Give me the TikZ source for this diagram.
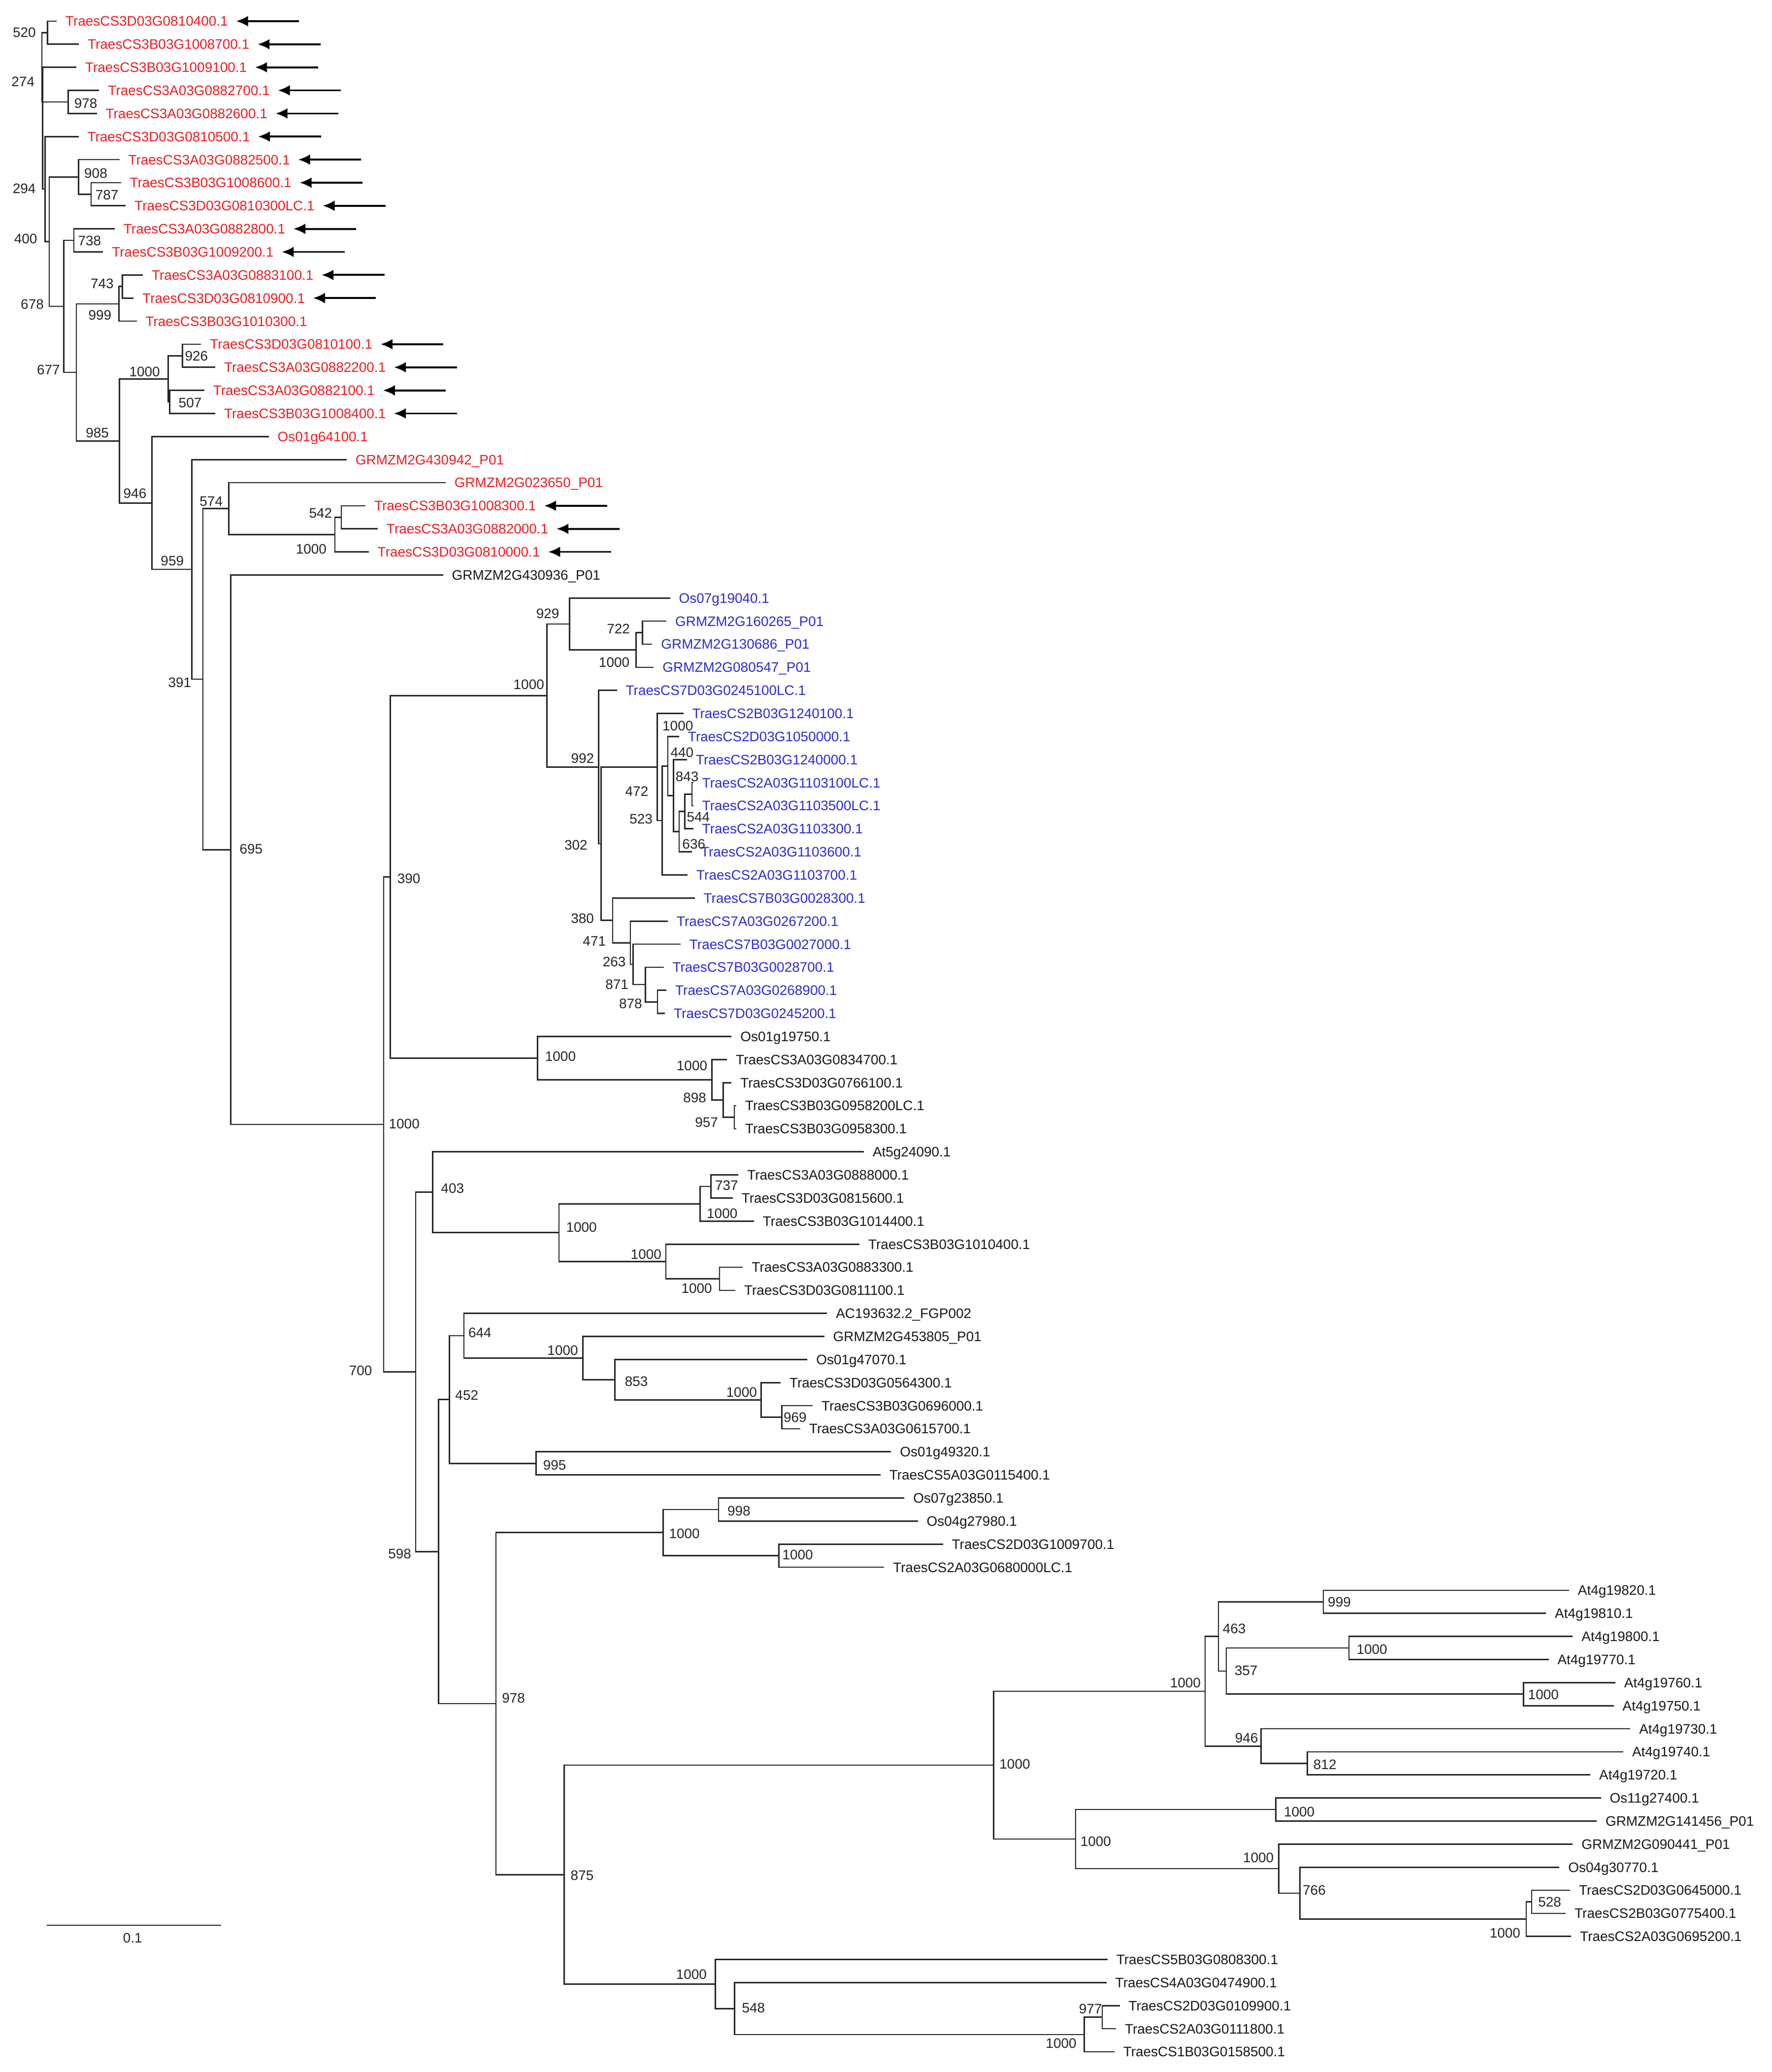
\documentclass[tikz,border=0pt]{standalone}
\usepackage{fontspec}
\setmainfont{Liberation Sans}
\usetikzlibrary{arrows.meta}
\definecolor{tred}{RGB}{235,30,35}
\definecolor{tblue}{RGB}{45,45,205}
\newcommand\fs{\fontsize{10.4}{12}\selectfont}
\newcommand\LF[5]{\coordinate (t#1) at (#2,#3); \node[lf,#5] (L#1) at (t#1) {#4};}
\newcommand\E[2]{\draw[br] (#1) |- (#2);}
\newcommand\AR[1]{\coordinate (a#1) at ([xshift=53.5pt]L#1.east); \draw[arr] (a#1) -- ([xshift=6pt]L#1.east);}
\newcommand\BS[4]{\node[bs] (#1) at (#2,#3) {#4};}
\tikzset{
 br/.style={draw=black!85, line width=1.0pt},
 lf/.style={anchor=west, inner sep=0pt, xshift=6.5pt, text height=7.4pt, text depth=0pt, font=\fs},
 bs/.style={inner sep=0pt, text height=7.4pt, text depth=0pt, font=\fs, text=black!85},
 arr/.style={-{Latex[length=9pt,width=8pt]}, line width=1.4pt, black},
 rd/.style={text=tred}, bl/.style={text=tblue}, bk/.style={text=black!90}
}
\begin{document}
\begin{tikzpicture}[x=1pt,y=-1pt]
\useasboundingbox (0,0) rectangle (1339,1566);
% ---------------- leaves
\LF{1}{42.8}{16.00}{TraesCS3D03G0810400.1}{rd}
\LF{2}{59.6}{33.44}{TraesCS3B03G1008700.1}{rd}
\LF{3}{57.7}{50.88}{TraesCS3B03G1009100.1}{rd}
\LF{4}{75.0}{68.32}{TraesCS3A03G0882700.1}{rd}
\LF{5}{73.2}{85.76}{TraesCS3A03G0882600.1}{rd}
\LF{6}{59.4}{103.20}{TraesCS3D03G0810500.1}{rd}
\LF{7}{90.3}{120.64}{TraesCS3A03G0882500.1}{rd}
\LF{8}{91.4}{138.08}{TraesCS3B03G1008600.1}{rd}
\LF{9}{95.0}{155.52}{TraesCS3D03G0810300LC.1}{rd}
\LF{10}{86.7}{172.96}{TraesCS3A03G0882800.1}{rd}
\LF{11}{77.9}{190.40}{TraesCS3B03G1009200.1}{rd}
\LF{12}{108.0}{207.84}{TraesCS3A03G0883100.1}{rd}
\LF{13}{101.0}{225.28}{TraesCS3D03G0810900.1}{rd}
\LF{14}{103.3}{242.72}{TraesCS3B03G1010300.1}{rd}
\LF{15}{152.0}{260.16}{TraesCS3D03G0810100.1}{rd}
\LF{16}{162.7}{277.60}{TraesCS3A03G0882200.1}{rd}
\LF{17}{154.4}{295.04}{TraesCS3A03G0882100.1}{rd}
\LF{18}{162.7}{312.48}{TraesCS3B03G1008400.1}{rd}
\LF{19}{203.1}{329.92}{Os01g64100.1}{rd}
\LF{20}{262.0}{347.36}{GRMZM2G430942\_P01}{rd}
\LF{21}{336.8}{364.80}{GRMZM2G023650\_P01}{rd}
\LF{22}{276.2}{382.24}{TraesCS3B03G1008300.1}{rd}
\LF{23}{285.5}{399.68}{TraesCS3A03G0882000.1}{rd}
\LF{24}{278.7}{417.12}{TraesCS3D03G0810000.1}{rd}
\LF{25}{334.9}{434.56}{GRMZM2G430936\_P01}{bk}
\LF{26}{506.5}{452.00}{Os07g19040.1}{bl}
\LF{27}{503.7}{469.44}{GRMZM2G160265\_P01}{bl}
\LF{28}{493.0}{486.88}{GRMZM2G130686\_P01}{bl}
\LF{29}{494.1}{504.32}{GRMZM2G080547\_P01}{bl}
\LF{30}{466.3}{521.76}{TraesCS7D03G0245100LC.1}{bl}
\LF{31}{516.5}{539.20}{TraesCS2B03G1240100.1}{bl}
\LF{32}{513.3}{556.64}{TraesCS2D03G1050000.1}{bl}
\LF{33}{519.3}{574.08}{TraesCS2B03G1240000.1}{bl}
\LF{34}{524.0}{591.52}{TraesCS2A03G1103100LC.1}{bl}
\LF{35}{524.0}{608.96}{TraesCS2A03G1103500LC.1}{bl}
\LF{36}{524.0}{626.40}{TraesCS2A03G1103300.1}{bl}
\LF{37}{523.0}{643.84}{TraesCS2A03G1103600.1}{bl}
\LF{38}{519.7}{661.28}{TraesCS2A03G1103700.1}{bl}
\LF{39}{525.1}{678.72}{TraesCS7B03G0028300.1}{bl}
\LF{40}{504.8}{696.16}{TraesCS7A03G0267200.1}{bl}
\LF{41}{514.4}{713.60}{TraesCS7B03G0027000.1}{bl}
\LF{42}{501.6}{731.04}{TraesCS7B03G0028700.1}{bl}
\LF{43}{503.7}{748.48}{TraesCS7A03G0268900.1}{bl}
\LF{44}{502.6}{765.92}{TraesCS7D03G0245200.1}{bl}
\LF{45}{552.9}{783.36}{Os01g19750.1}{bk}
\LF{46}{549.5}{800.80}{TraesCS3A03G0834700.1}{bk}
\LF{47}{552.9}{818.24}{TraesCS3D03G0766100.1}{bk}
\LF{48}{556.5}{835.68}{TraesCS3B03G0958200LC.1}{bk}
\LF{49}{556.5}{853.12}{TraesCS3B03G0958300.1}{bk}
\LF{50}{652.9}{870.56}{At5g24090.1}{bk}
\LF{51}{558.1}{888.00}{TraesCS3A03G0888000.1}{bk}
\LF{52}{553.8}{905.44}{TraesCS3D03G0815600.1}{bk}
\LF{53}{569.8}{922.88}{TraesCS3B03G1014400.1}{bk}
\LF{54}{649.6}{940.32}{TraesCS3B03G1010400.1}{bk}
\LF{55}{561.5}{957.76}{TraesCS3A03G0883300.1}{bk}
\LF{56}{555.8}{975.20}{TraesCS3D03G0811100.1}{bk}
\LF{57}{625.1}{992.64}{AC193632.2\_FGP002}{bk}
\LF{58}{623.0}{1010.08}{GRMZM2G453805\_P01}{bk}
\LF{59}{610.2}{1027.52}{Os01g47070.1}{bk}
\LF{60}{590.0}{1044.96}{TraesCS3D03G0564300.1}{bk}
\LF{61}{614.2}{1062.40}{TraesCS3B03G0696000.1}{bk}
\LF{62}{604.9}{1079.84}{TraesCS3A03G0615700.1}{bk}
\LF{63}{673.5}{1097.28}{Os01g49320.1}{bk}
\LF{64}{665.5}{1114.72}{TraesCS5A03G0115400.1}{bk}
\LF{65}{683.6}{1132.16}{Os07g23850.1}{bk}
\LF{66}{693.7}{1149.60}{Os04g27980.1}{bk}
\LF{67}{712.7}{1167.04}{TraesCS2D03G1009700.1}{bk}
\LF{68}{668.3}{1184.48}{TraesCS2A03G0680000LC.1}{bk}
\LF{69}{1185.9}{1201.92}{At4g19820.1}{bk}
\LF{70}{1168.5}{1219.36}{At4g19810.1}{bk}
\LF{71}{1188.7}{1236.80}{At4g19800.1}{bk}
\LF{72}{1170.5}{1254.24}{At4g19770.1}{bk}
\LF{73}{1220.9}{1271.68}{At4g19760.1}{bk}
\LF{74}{1219.7}{1289.12}{At4g19750.1}{bk}
\LF{75}{1232.2}{1306.56}{At4g19730.1}{bk}
\LF{76}{1226.9}{1324.00}{At4g19740.1}{bk}
\LF{77}{1202.0}{1341.44}{At4g19720.1}{bk}
\LF{78}{1210.0}{1358.88}{Os11g27400.1}{bk}
\LF{79}{1206.8}{1376.32}{GRMZM2G141456\_P01}{bk}
\LF{80}{1188.7}{1393.76}{GRMZM2G090441\_P01}{bk}
\LF{81}{1178.6}{1411.20}{Os04g30770.1}{bk}
\LF{82}{1186.7}{1428.64}{TraesCS2D03G0645000.1}{bk}
\LF{83}{1183.4}{1446.08}{TraesCS2B03G0775400.1}{bk}
\LF{84}{1187.5}{1463.52}{TraesCS2A03G0695200.1}{bk}
\LF{85}{837.1}{1480.96}{TraesCS5B03G0808300.1}{bk}
\LF{86}{836.3}{1498.40}{TraesCS4A03G0474900.1}{bk}
\LF{87}{846.3}{1515.84}{TraesCS2D03G0109900.1}{bk}
\LF{88}{843.5}{1533.28}{TraesCS2A03G0111800.1}{bk}
\LF{89}{842.3}{1550.72}{TraesCS1B03G0158500.1}{bk}
% ---------------- internal nodes
\coordinate (nP) at (32.2,96.9);
\coordinate (n274) at (31.6,50.88);
\coordinate (n520) at (36.0,24.72);
\coordinate (n978) at (51.5,77.04);
\coordinate (nQ) at (34.1,142.92);
\coordinate (nS) at (37.2,182.64);
\coordinate (n908) at (59.4,133.72);
\coordinate (n787) at (68.9,146.8);
\coordinate (nR) at (48.3,231.56);
\coordinate (n738) at (55.8,181.68);
\coordinate (nT) at (57.7,281.44);
\coordinate (n999) at (89.8,229.64);
\coordinate (n743) at (92.6,216.56);
\coordinate (nV) at (90.3,333.23);
\coordinate (nW) at (127.1,286.32);
\coordinate (n926) at (137.8,268.88);
\coordinate (n507) at (128.3,303.76);
\coordinate (nX) at (114.8,380.13);
\coordinate (nY) at (145.1,430.33);
\coordinate (nZ) at (153.4,513.3);
\coordinate (n574) at (172.8,384.42);
\coordinate (nB) at (253.1,404.04);
\coordinate (n542) at (258.0,390.96);
\coordinate (n695) at (174.4,642.18);
\coordinate (nBig) at (290.0,849.79);
\coordinate (n390) at (295.0,662.69);
\coordinate (nBlue) at (413.3,525.66);
\coordinate (n929) at (430.4,471.62);
\coordinate (n1000e) at (480.8,491.24);
\coordinate (n722) at (485.6,478.16);
\coordinate (n992) at (452.4,579.7);
\coordinate (n302) at (454.4,637.65);
\coordinate (n472) at (496.8,579.67);
\coordinate (n523) at (500.5,620.14);
\coordinate (nE) at (504.8,578.99);
\coordinate (nD) at (509.1,601.33);
\coordinate (nC) at (513.3,628.58);
\coordinate (nBb) at (517.6,613.32);
\coordinate (nA) at (523.0,600.24);
\coordinate (n380) at (463.1,695.62);
\coordinate (n471) at (476.4,712.51);
\coordinate (n263) at (478.6,728.86);
\coordinate (n871) at (487.7,744.12);
\coordinate (n878) at (496.9,757.2);
\coordinate (n1000c) at (406.2,799.71);
\coordinate (n1000d) at (538.0,816.06);
\coordinate (n898) at (546.5,831.32);
\coordinate (n957) at (555.0,844.4);
\coordinate (n700) at (314.2,1036.88);
\coordinate (n403) at (327.1,901.08);
\coordinate (n1000g) at (422.5,931.6);
\coordinate (n1000h) at (529.2,909.8);
\coordinate (n737) at (537.2,896.72);
\coordinate (n1000i) at (503.3,953.4);
\coordinate (n1000j) at (543.8,966.48);
\coordinate (n598) at (331.6,1172.67);
\coordinate (n452) at (339.7,1057.77);
\coordinate (n644) at (350.6,1009.54);
\coordinate (n1000k) at (440.6,1026.43);
\coordinate (n853) at (464.8,1042.78);
\coordinate (n1000l) at (575.4,1058.04);
\coordinate (n969) at (590.8,1071.12);
\coordinate (n995) at (405.1,1106.0);
\coordinate (n978b) at (374.8,1287.56);
\coordinate (n1000m) at (501.2,1158.32);
\coordinate (n998) at (543.1,1140.88);
\coordinate (n1000n) at (588.8,1175.76);
\coordinate (n875) at (426.4,1416.79);
\coordinate (n1000o) at (750.9,1334.09);
\coordinate (n1000r) at (910.8,1278.22);
\coordinate (n463) at (920.9,1236.8);
\coordinate (n999b) at (1000.2,1210.64);
\coordinate (n357) at (926.9,1262.96);
\coordinate (n1000s) at (1019.5,1245.52);
\coordinate (n1000t) at (1151.6,1280.4);
\coordinate (n946b) at (953.1,1319.64);
\coordinate (n812) at (988.1,1332.72);
\coordinate (n1000u) at (812.9,1389.95);
\coordinate (n1000v) at (964.3,1367.6);
\coordinate (n1000w) at (966.4,1412.29);
\coordinate (n766) at (982.5,1430.82);
\coordinate (n1000x) at (1153.6,1450.44);
\coordinate (n528) at (1157.7,1437.36);
\coordinate (n1000p) at (540.6,1499.49);
\coordinate (n548) at (555.1,1518.02);
\coordinate (n1000q) at (819.4,1537.64);
\coordinate (n977) at (833.1,1524.56);
% ---------------- branches
\E{nP}{n274}\E{nP}{nQ}
\E{n274}{n520}\E{n274}{t3}\E{n274}{n978}
\E{n520}{t1}\E{n520}{t2}
\E{n978}{t4}\E{n978}{t5}
\E{nQ}{t6}\E{nQ}{nS}
\E{nS}{n908}\E{nS}{nR}
\E{n908}{t7}\E{n908}{n787}
\E{n787}{t8}\E{n787}{t9}
\E{nR}{n738}\E{nR}{nT}
\E{n738}{t10}\E{n738}{t11}
\E{nT}{n999}\E{nT}{nV}
\E{n999}{n743}\E{n999}{t14}
\E{n743}{t12}\E{n743}{t13}
\E{nV}{nW}\E{nV}{nX}
\E{nW}{n926}\E{nW}{n507}
\E{n926}{t15}\E{n926}{t16}
\E{n507}{t17}\E{n507}{t18}
\E{nX}{t19}\E{nX}{nY}
\E{nY}{t20}\E{nY}{nZ}
\E{nZ}{n574}\E{nZ}{n695}
\E{n574}{t21}\E{n574}{nB}
\E{nB}{n542}\E{nB}{t24}
\E{n542}{t22}\E{n542}{t23}
\E{n695}{t25}\E{n695}{nBig}
\E{nBig}{n390}\E{nBig}{n700}
\E{n390}{nBlue}\E{n390}{n1000c}
\E{nBlue}{n929}\E{nBlue}{n992}
\E{n929}{t26}\E{n929}{n1000e}
\E{n1000e}{n722}\E{n1000e}{t29}
\E{n722}{t27}\E{n722}{t28}
\E{n992}{t30}\E{n992}{n302}
\E{n302}{n472}\E{n302}{n380}
\E{n472}{t31}\E{n472}{n523}
\E{n523}{nE}\E{n523}{t38}
\E{nE}{t32}\E{nE}{nD}
\E{nD}{t33}\E{nD}{nC}
\E{nC}{nBb}\E{nC}{t37}
\E{nBb}{nA}\E{nBb}{t36}
\E{nA}{t34}\E{nA}{t35}
\E{n380}{t39}\E{n380}{n471}
\E{n471}{t40}\E{n471}{n263}
\E{n263}{t41}\E{n263}{n871}
\E{n871}{t42}\E{n871}{n878}
\E{n878}{t43}\E{n878}{t44}
\E{n1000c}{t45}\E{n1000c}{n1000d}
\E{n1000d}{t46}\E{n1000d}{n898}
\E{n898}{t47}\E{n898}{n957}
\E{n957}{t48}\E{n957}{t49}
\E{n700}{n403}\E{n700}{n598}
\E{n403}{t50}\E{n403}{n1000g}
\E{n1000g}{n1000h}\E{n1000g}{n1000i}
\E{n1000h}{n737}\E{n1000h}{t53}
\E{n737}{t51}\E{n737}{t52}
\E{n1000i}{t54}\E{n1000i}{n1000j}
\E{n1000j}{t55}\E{n1000j}{t56}
\E{n598}{n452}\E{n598}{n978b}
\E{n452}{n644}\E{n452}{n995}
\E{n644}{t57}\E{n644}{n1000k}
\E{n1000k}{t58}\E{n1000k}{n853}
\E{n853}{t59}\E{n853}{n1000l}
\E{n1000l}{t60}\E{n1000l}{n969}
\E{n969}{t61}\E{n969}{t62}
\E{n995}{t63}\E{n995}{t64}
\E{n978b}{n1000m}\E{n978b}{n875}
\E{n1000m}{n998}\E{n1000m}{n1000n}
\E{n998}{t65}\E{n998}{t66}
\E{n1000n}{t67}\E{n1000n}{t68}
\E{n875}{n1000o}\E{n875}{n1000p}
\E{n1000o}{n1000r}\E{n1000o}{n1000u}
\E{n1000r}{n463}\E{n1000r}{n946b}
\E{n463}{n999b}\E{n463}{n357}
\E{n999b}{t69}\E{n999b}{t70}
\E{n357}{n1000s}\E{n357}{n1000t}
\E{n1000s}{t71}\E{n1000s}{t72}
\E{n1000t}{t73}\E{n1000t}{t74}
\E{n946b}{t75}\E{n946b}{n812}
\E{n812}{t76}\E{n812}{t77}
\E{n1000u}{n1000v}\E{n1000u}{n1000w}
\E{n1000v}{t78}\E{n1000v}{t79}
\E{n1000w}{t80}\E{n1000w}{n766}
\E{n766}{t81}\E{n766}{n1000x}
\E{n1000x}{n528}\E{n1000x}{t84}
\E{n528}{t82}\E{n528}{t83}
\E{n1000p}{t85}\E{n1000p}{n548}
\E{n548}{t86}\E{n548}{n1000q}
\E{n1000q}{n977}\E{n1000q}{t89}
\E{n977}{t87}\E{n977}{t88}
% ---------------- bootstrap values
\BS{b1}{18.4}{24.3}{520}
\BS{b2}{17.4}{61.7}{274}
\BS{b3}{64.8}{77.9}{978}
\BS{b4}{18.3}{142.5}{294}
\BS{b5}{72.4}{131.0}{908}
\BS{b6}{80.8}{147.3}{787}
\BS{b7}{19.4}{180.4}{400}
\BS{b8}{67.7}{181.9}{738}
\BS{b9}{77.2}{214.3}{743}
\BS{b10}{24.4}{229.8}{678}
\BS{b11}{75.5}{238.1}{999}
\BS{b12}{148.5}{269.1}{926}
\BS{b13}{109.3}{280.8}{1000}
\BS{b14}{36.6}{279.2}{677}
\BS{b15}{143.7}{304.4}{507}
\BS{b16}{73.6}{327.2}{985}
\BS{b17}{102.0}{372.9}{946}
\BS{b18}{159.6}{378.8}{574}
\BS{b19}{242.3}{387.6}{542}
\BS{b20}{235.2}{414.9}{1000}
\BS{b21}{130.2}{423.7}{959}
\BS{b22}{135.8}{515.6}{391}
\BS{b23}{189.8}{641.7}{695}
\BS{b24}{414.0}{463.6}{929}
\BS{b25}{467.4}{475.2}{722}
\BS{b26}{464.2}{500.6}{1000}
\BS{b27}{399.7}{517.3}{1000}
\BS{b28}{512.3}{548.5}{1000}
\BS{b29}{515.5}{568.5}{440}
\BS{b30}{440.3}{573.2}{992}
\BS{b31}{519.3}{587.0}{843}
\BS{b32}{481.3}{597.9}{472}
\BS{b33}{527.8}{617.2}{544}
\BS{b34}{484.5}{618.7}{523}
\BS{b35}{524.4}{638.0}{636}
\BS{b36}{435.3}{638.7}{302}
\BS{b37}{440.2}{694.0}{380}
\BS{b38}{449.2}{711.3}{471}
\BS{b39}{464.2}{726.7}{263}
\BS{b40}{466.3}{743.8}{871}
\BS{b41}{476.6}{758.6}{878}
\BS{b42}{309.0}{664.0}{390}
\BS{b43}{423.6}{798.2}{1000}
\BS{b44}{523.0}{805.3}{1000}
\BS{b45}{525.1}{829.6}{898}
\BS{b46}{534.0}{848.1}{957}
\BS{b47}{305.5}{849.3}{1000}
\BS{b48}{342.0}{898.0}{403}
\BS{b49}{549.2}{895.9}{737}
\BS{b50}{545.8}{917.2}{1000}
\BS{b51}{439.5}{927.3}{1000}
\BS{b52}{488.3}{948.0}{1000}
\BS{b53}{526.6}{973.7}{1000}
\BS{b54}{362.7}{1007.2}{644}
\BS{b55}{425.3}{1020.5}{1000}
\BS{b56}{272.5}{1035.6}{700}
\BS{b57}{481.0}{1043.8}{853}
\BS{b58}{560.5}{1052.1}{1000}
\BS{b59}{352.8}{1054.5}{452}
\BS{b60}{600.9}{1071.2}{969}
\BS{b61}{419.2}{1107.1}{995}
\BS{b62}{558.5}{1142.0}{998}
\BS{b63}{517.3}{1159.1}{1000}
\BS{b64}{602.9}{1174.8}{1000}
\BS{b65}{302.1}{1174.1}{598}
\BS{b66}{388.1}{1283.3}{978}
\BS{b67}{1012.3}{1210.6}{999}
\BS{b68}{932.9}{1230.7}{463}
\BS{b69}{1036.9}{1246.6}{1000}
\BS{b70}{941.8}{1262.6}{357}
\BS{b71}{895.9}{1271.9}{1000}
\BS{b72}{1166.5}{1280.8}{1000}
\BS{b73}{942.2}{1313.5}{946}
\BS{b74}{767.0}{1333.3}{1000}
\BS{b75}{1001.4}{1333.6}{812}
\BS{b76}{982.0}{1369.1}{1000}
\BS{b77}{828.2}{1391.6}{1000}
\BS{b78}{951.1}{1404.0}{1000}
\BS{b79}{993.3}{1428.3}{766}
\BS{b80}{1171.3}{1437.4}{528}
\BS{b81}{1137.5}{1461.0}{1000}
\BS{b82}{440.0}{1417.3}{875}
\BS{b83}{522.6}{1492.0}{1000}
\BS{b84}{569.5}{1517.6}{548}
\BS{b85}{824.2}{1518.3}{977}
\BS{b86}{802.0}{1544.4}{1000}
% ---------------- arrows
\AR{1}\AR{2}\AR{3}\AR{4}\AR{5}\AR{6}\AR{7}\AR{8}\AR{9}\AR{10}\AR{11}\AR{12}\AR{13}
\AR{15}\AR{16}\AR{17}\AR{18}\AR{22}\AR{23}\AR{24}
% ---------------- scale bar
\coordinate (sb1) at (35.2,1455);
\coordinate (sb2) at (167,1455);
\draw[br] (sb1) -- (sb2);
\BS{sbl}{100.2}{1464.6}{0.1}
\end{tikzpicture}
\end{document}
